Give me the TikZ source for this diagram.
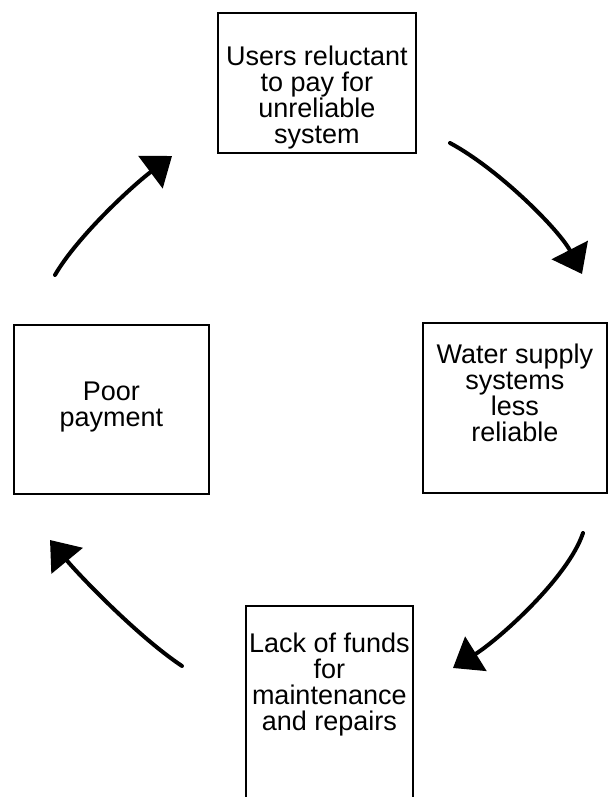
\documentclass[tikz,border=0pt]{standalone}
\usepackage{fontspec}
\setmainfont{Liberation Sans}
\usetikzlibrary{arrows.meta}

\tikzset{
  cyclebox/.style={draw, line width=0.8pt, anchor=north west, align=center,
    inner xsep=0pt, inner ysep=0pt, font=\fontsize{13.5}{13}\selectfont},
  cyclearrow/.style={line width=2pt, line cap=round,
    -{Triangle[length=13.5pt,width=20pt]}}
}

\begin{document}
\begin{tikzpicture}[x=0.5pt,y=-0.5pt]
  \useasboundingbox (0,0) rectangle (608,797);
  \clip (0,0) rectangle (608,797);

  % the four boxes of the cycle
  \node[cyclebox, minimum width=99pt, text height=65.5pt, text depth=4.5pt]
    (users) at (217,12) {Users reluctant\\to pay for\\unreliable\\system};
  \node[cyclebox, minimum width=92pt, text height=59.5pt, text depth=25.5pt]
    (water) at (422,322) {Water supply\\systems\\less\\reliable};
  \node[cyclebox, minimum width=83.5pt, text height=62.5pt, text depth=50pt]
    (funds) at (245,605) {Lack of funds\\for\\maintenance\\and repairs};
  \node[cyclebox, minimum width=97.5pt, text height=51pt, text depth=33.5pt]
    (poor) at (13,324) {Poor\\payment};

  % free ends of the arrows
  \coordinate (users-out) at (450,143);
  \coordinate (water-in)  at (582,274);
  \coordinate (water-out) at (583,533);
  \coordinate (funds-in)  at (453,668);
  \coordinate (funds-out) at (182,666);
  \coordinate (poor-in)   at (50,540);
  \coordinate (poor-out)  at (55,275);
  \coordinate (users-in)  at (172,156);

  \draw[cyclearrow] (users-out) .. controls (500,170) and (560,231) .. (water-in);
  \draw[cyclearrow] (water-out) .. controls (568,578) and (498,640) .. (funds-in);
  \draw[cyclearrow] (funds-out) .. controls (137,636) and (78,574) .. (poor-in);
  \draw[cyclearrow] (poor-out) .. controls (77,237) and (132,186) .. (users-in);
\end{tikzpicture}
\end{document}
